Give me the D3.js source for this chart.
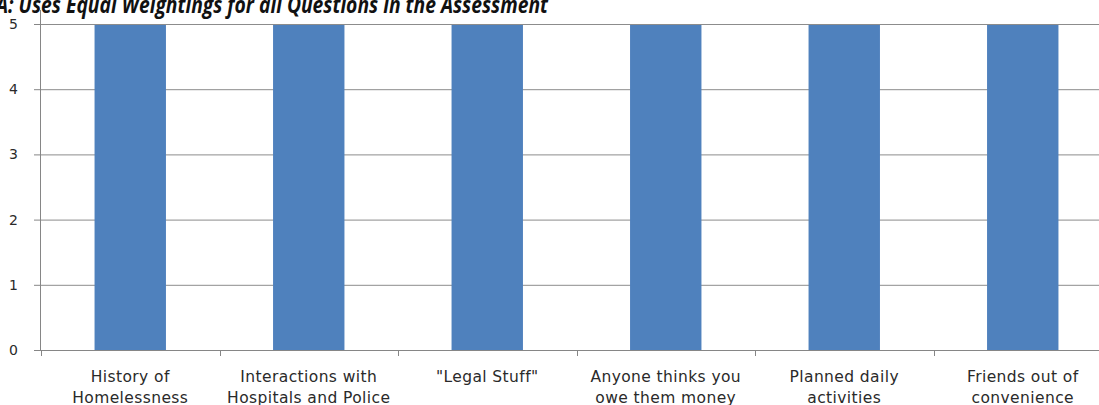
<!DOCTYPE html>
<html><head><meta charset="utf-8">
<script src="https://cdn.jsdelivr.net/npm/d3@7"></script>
<style>body{margin:0;background:#fff;}svg{display:block;}</style>
</head><body>
<svg id="c" width="1099" height="405"></svg>
<script>
const titleText = "A: Uses Equal Weightings for all Questions in the Assessment";
const categories = [
  ["History of", "Homelessness"],
  ["Interactions with", "Hospitals and Police"],
  ["\"Legal Stuff\""],
  ["Anyone thinks you", "owe them money"],
  ["Planned daily", "activities"],
  ["Friends out of", "convenience"]
];
const values = [5, 5, 5, 5, 5, 5];
const yTicks = [0, 1, 2, 3, 4, 5];

(function () {
const svg = d3.select("#c");
const mLeft = 41, mRight = 1112, mTop = 24, mBottom = 350;
const x = d3.scaleBand().domain(d3.range(categories.length)).range([mLeft, mRight]).paddingInner(0.6).paddingOuter(0.3);
const xb = d3.scaleBand().domain(d3.range(categories.length)).range([mLeft, mRight]).padding(0);
const y = d3.scaleLinear().domain([0, 5]).range([mBottom, mTop]);

// gridlines
svg.append("g").selectAll("line").data(yTicks.filter(d => d > 0)).join("line")
  .attr("x1", mLeft).attr("x2", 1099).attr("y1", d => y(d) + 0.5).attr("y2", d => y(d) + 0.5)
  .attr("stroke", "#8c8c8c").attr("stroke-width", 1);

// bars
svg.append("g").selectAll("rect").data(values).join("rect")
  .attr("x", (d, i) => x(i)).attr("width", x.bandwidth())
  .attr("y", d => y(d) + 1).attr("height", d => y(0) - y(d) - 1)
  .attr("fill", "#4f81bd");

// y axis
const ya = svg.append("g").attr("transform", `translate(${mLeft},0)`)
  .call(d3.axisLeft(y).tickValues(yTicks).tickSize(7).tickPadding(16).tickFormat(d3.format("d")));
ya.select(".domain").attr("stroke", "#868686").attr("d", `M-0.5,${mTop - 14}V${mBottom}`);
ya.selectAll(".tick line").attr("stroke", "#868686");
ya.selectAll("text").attr("fill", "#2a2a2a").style("font-family", "'DejaVu Sans', sans-serif").style("font-size", "14px");

// x axis line
svg.append("line").attr("x1", mLeft).attr("x2", 1099).attr("y1", mBottom + 0.5).attr("y2", mBottom + 0.5).attr("stroke", "#868686");
// x ticks at band boundaries
svg.append("g").selectAll("line").data(d3.range(categories.length + 1)).join("line")
  .attr("x1", i => Math.round(mLeft + i * xb.step()) + 0.5).attr("x2", i => Math.round(mLeft + i * xb.step()) + 0.5)
  .attr("y1", mBottom).attr("y2", mBottom + 6).attr("stroke", "#868686");

// x labels
const lab = svg.append("g").selectAll("text").data(categories).join("text")
  .attr("text-anchor", "middle")
  .attr("x", (d, i) => xb(i) + xb.bandwidth() / 2)
  .attr("y", 382)
  .attr("fill", "#2a2a2a")
  .style("font-family", "'DejaVu Sans', sans-serif").style("font-size", "15.5px")
  .style("letter-spacing", "0.4px");
lab.selectAll("tspan").data(d => d).join("tspan")
  .attr("x", function() { return this.parentNode.getAttribute("x"); })
  .attr("dy", (d, j) => j === 0 ? 0 : 20.5)
  .text(d => d);

// title (cut off at the top)
svg.append("text").attr("x", -4).attr("y", 13)
  .style("font-family", "'Open Sans', sans-serif").style("font-size", "23px")
  .style("font-weight", "bold").style("font-style", "italic")
  .attr("fill", "#111")
  .attr("textLength", 552).attr("lengthAdjust", "spacingAndGlyphs")
  .text(titleText);
})();
</script>
</body></html>
